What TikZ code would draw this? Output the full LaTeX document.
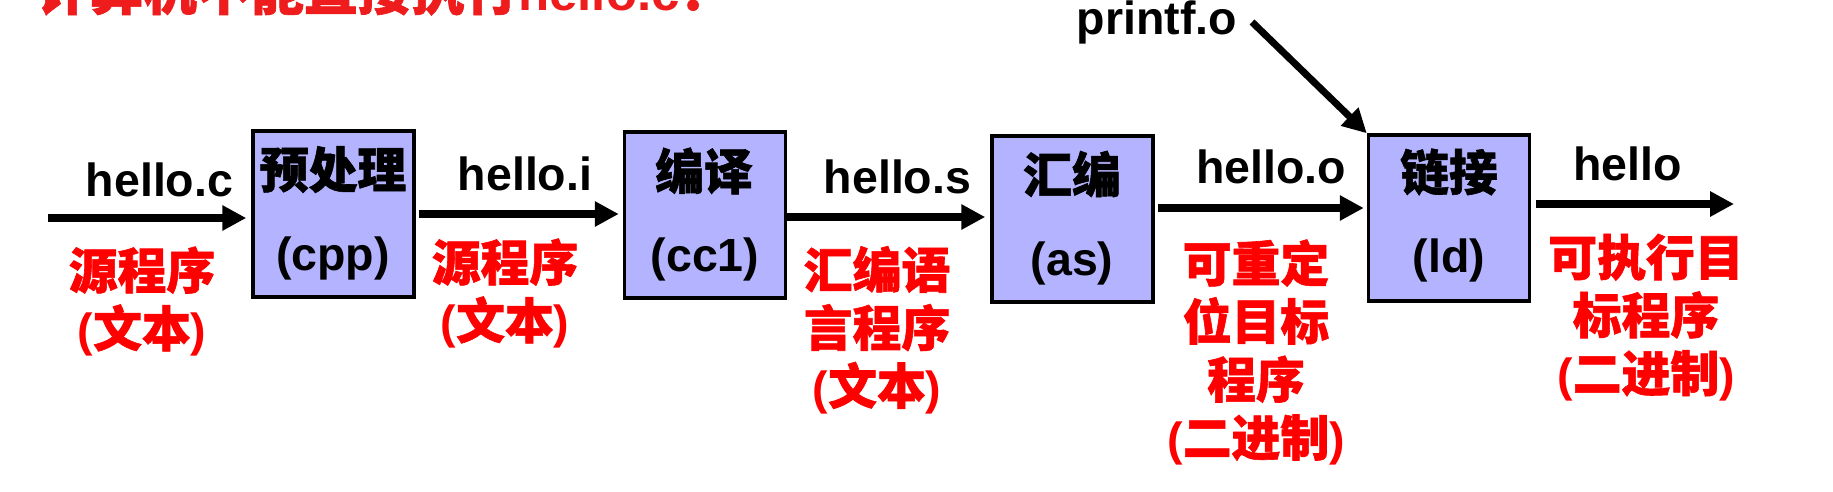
\documentclass[tikz,border=0pt]{standalone}
\usepackage{fontspec}
\setmainfont{Liberation Sans}
\newfontfamily\cjk[Scale=1.05,BoldFeatures={FakeBold=1.2}]{Noto Sans CJK SC}
\usetikzlibrary{arrows.meta}
\definecolor{boxfill}{RGB}{179,179,255}
\definecolor{labred}{RGB}{255,0,0}
\definecolor{titlered}{RGB}{238,28,28}
\newcommand\zh[1]{{\cjk #1}}
\begin{document}
\begin{tikzpicture}[x=1pt,y=-1pt,
  box/.style={draw=black,line width=3.5pt,fill=boxfill,minimum width=161pt,minimum height=166pt,inner sep=0pt},
  lbl/.style={font=\bfseries\fontsize{46.5}{58}\selectfont,inner sep=0pt,text=black},
  redl/.style={lbl,text=labred,align=center},
  arr/.style={line width=8pt,-{Triangle[length=24pt,width=24pt]}}]
\useasboundingbox[fill=white] (0,0) rectangle (1833,491);
\node[font=\bfseries\fontsize{51}{60}\selectfont,text=titlered,anchor=base west,inner sep=0pt] (title) at (36,10) {\zh{计算机不能直接执行}hello.c\zh{！}};
% boxes
\node[box] (b1) at (333.5,214) {};
\node[box] (b2) at (705,215) {};
\node[box] (b3) at (1072.5,219) {};
\node[box] (b4) at (1449,218) {};
% box texts
\node[lbl] (t1a) at (333,169.5) {\zh{预处理}};
\node[lbl] (t1b) at (333,258) {(cpp)};
\node[lbl] (t2a) at (704,171) {\zh{编译}};
\node[lbl] (t2b) at (705,259) {(cc1)};
\node[lbl] (t3a) at (1072,174) {\zh{汇编}};
\node[lbl] (t3b) at (1072,263) {(as)};
\node[lbl] (t4a) at (1449,172) {\zh{链接}};
\node[lbl] (t4b) at (1449,260) {(ld)};
% file names
\node[lbl,anchor=base] (f1) at (159.5,196) {hello.c};
\node[lbl,anchor=base] (f2) at (525,190) {hello.i};
\node[lbl,anchor=base] (f3) at (897.5,193) {hello.s};
\node[lbl,anchor=base] (f4) at (1271,183) {hello.o};
\node[lbl,anchor=base] (f5) at (1627.5,180) {hello};
\node[lbl,anchor=base] (pf) at (1157,34) {printf.o};
% red descriptions
\node[redl] (d1) at (142,301.5) {\zh{源程序}\\(\zh{文本})};
\node[redl] (d2) at (505,293.5) {\zh{源程序}\\(\zh{文本})};
\node[redl] (d3) at (877,330) {\zh{汇编语}\\\zh{言程序}\\(\zh{文本})};
\node[redl] (d4) at (1256,352.5) {\zh{可重定}\\\zh{位目标}\\\zh{程序}\\(\zh{二进制})};
\node[redl] (d5) at (1646,317.5) {\zh{可执行目}\\\zh{标程序}\\(\zh{二进制})};
% arrows
\coordinate (s0) at (48,218);
\coordinate (e5) at (1734,204);
\coordinate (pfs) at (1252,22);
\draw[arr,shorten >=5pt] (s0) -- (s0 -| b1.west);
\draw[arr,shorten <=3pt,shorten >=4pt] (b1.east |- 0,214) -- (b2.west |- 0,214);
\draw[arr,shorten >=5pt] (b2.east |- 0,217) -- (b3.west |- 0,217);
\draw[arr,shorten <=3pt,shorten >=3pt] (b3.east |- 0,208) -- (b4.west |- 0,208);
\draw[arr,shorten <=5pt] (b4.east |- 0,204) -- (e5);
\draw[arr,line width=7pt] (pfs) -- (b4.north west);
\end{tikzpicture}
\end{document}
